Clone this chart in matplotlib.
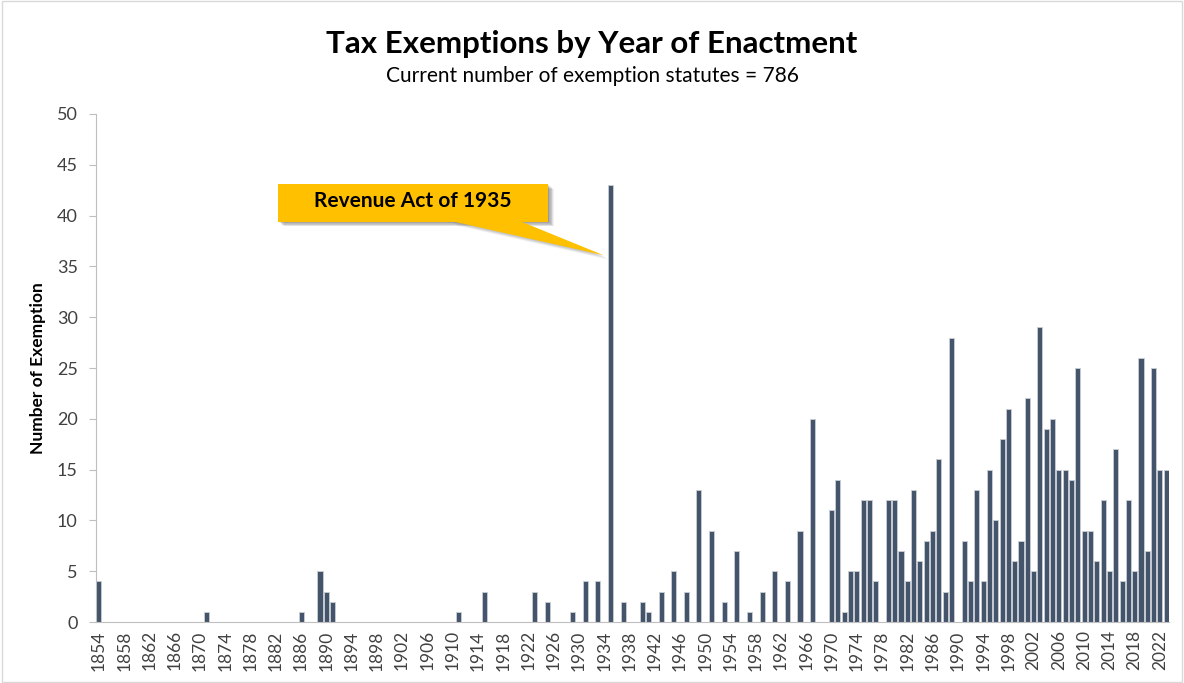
import matplotlib.pyplot as plt
from matplotlib.patches import Polygon, Rectangle
import numpy as np

plt.rcParams['font.family'] = ['Lato', 'DejaVu Sans']

# Data (years without exemptions are zero)
first_year = 1854
last_year = 2023
active_years = [1854, 1871, 1886, 1889, 1890, 1891,
                1911, 1915, 1923, 1925, 1929, 1931, 1933, 1935,
                1937, 1940, 1941, 1943, 1945, 1947, 1949, 1951, 1953,
                1955, 1957, 1959, 1961, 1963, 1965, 1967,
                1970, 1971, 1972, 1973, 1974, 1975, 1976, 1977,
                1979, 1980, 1981, 1982, 1983, 1984, 1985, 1986, 1987, 1988, 1989,
                1991, 1992, 1993, 1994, 1995, 1996, 1997, 1998, 1999, 2000, 2001,
                2002, 2003, 2004, 2005, 2006, 2007, 2008, 2009, 2010, 2011, 2012,
                2013, 2014, 2015, 2016, 2017, 2018, 2019, 2020, 2021, 2022, 2023]
counts = [4, 1, 1, 5, 3, 2,
          1, 3, 3, 2, 1, 4, 4, 43,
          2, 2, 1, 3, 5, 3, 13, 9, 2,
          7, 1, 3, 5, 4, 9, 20,
          11, 14, 1, 5, 5, 12, 12, 4,
          12, 12, 7, 4, 13, 6, 8, 9, 16, 3, 28,
          8, 4, 13, 4, 15, 10, 18, 21, 6, 8, 22,
          5, 29, 19, 20, 15, 15, 14, 25, 9, 9, 6,
          12, 5, 17, 4, 12, 5, 26, 7, 25, 15, 15]
callout_text = "Revenue Act of 1935"

years = np.arange(first_year, last_year + 1)
values = np.zeros(len(years))
for y, c in zip(active_years, counts):
    values[y - first_year] = c
total = int(sum(counts))

fig = plt.figure(figsize=(11.84, 6.83), dpi=100)
ax = fig.add_axes([0.0809, 0.0893, 0.9068, 0.7438])

x = np.arange(len(years))
ax.bar(x, values, width=0.8, color='#44546A', edgecolor='#C9CED6', linewidth=0.6)

ax.set_xlim(-0.5, len(years) - 0.5)
ax.set_ylim(0, 50)
ax.set_yticks(np.arange(0, 51, 5))
ax.set_xticks(x[::4])
ax.set_xticklabels([str(y) for y in years[::4]], rotation=90)

for side in ['top', 'right']:
    ax.spines[side].set_visible(False)
for side in ['left', 'bottom']:
    ax.spines[side].set_color('#BFBFBF')
ax.tick_params(axis='y', colors='#BFBFBF', labelcolor='#404040', labelsize=13, length=5, pad=8)
ax.tick_params(axis='x', length=0, labelcolor='#404040', labelsize=12.5, pad=6)
ax.set_ylabel('Number of Exemption', fontsize=12.5, fontweight='bold', labelpad=8)

fig.text(0.5, 0.936, 'Tax Exemptions by Year of Enactment', ha='center', va='center',
         fontsize=22.5, fontweight='bold')
fig.text(0.5, 0.888, 'Current number of exemption statutes = %d' % total, ha='center',
         va='center', fontsize=15)

# Callout box with pointer towards the 1935 bar
box = [(28.3, 39.4), (71.1, 39.4), (71.1, 43.1), (28.3, 43.1)]
tail = [(55.5, 39.5), (79.9, 36.1), (66.5, 39.5)]
for k in range(8, 0, -1):
    off = k * 0.13
    shadow = [(px + off * 0.9, py - off * 0.45) for px, py in box]
    ax.add_patch(Polygon(shadow, closed=True, facecolor='black', alpha=0.06,
                         edgecolor='none', zorder=3))
    shadow_tail = [(px + off * 0.9, py - off * 0.45) for px, py in tail]
    ax.add_patch(Polygon(shadow_tail, closed=True, facecolor='black', alpha=0.03,
                         edgecolor='none', zorder=3))
ax.add_patch(Polygon(box, closed=True, facecolor='#FFC000', edgecolor='none', zorder=4))
ax.add_patch(Polygon(tail, closed=True, facecolor='#FFC000', edgecolor='none', zorder=4))
ax.text(49.7, 41.4, callout_text, ha='center', va='center', fontsize=15,
        fontweight='bold', zorder=5)

fig.patches.append(Rectangle((0.002, 0.002), 0.996, 0.996, transform=fig.transFigure,
                             fill=False, edgecolor='#D9D9D9', linewidth=1))

fig.savefig('out.png', dpi=100)
